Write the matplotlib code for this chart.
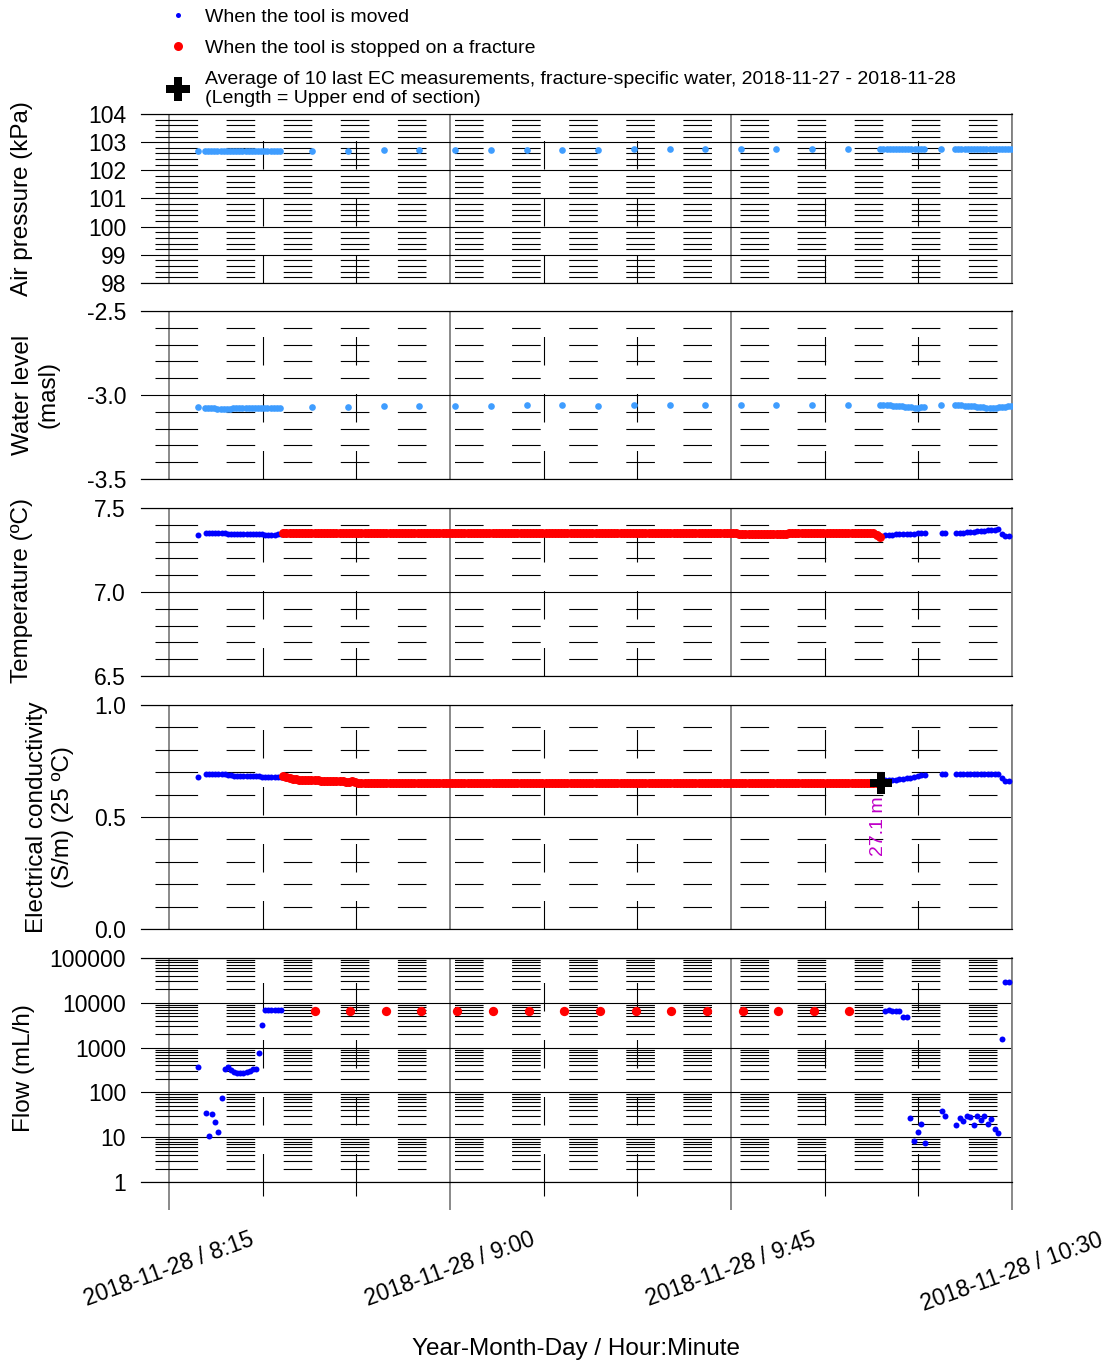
import numpy as np
import pandas as pd
import matplotlib
matplotlib.use("Agg")
import matplotlib.pyplot as plt
import matplotlib.dates as mdates
from matplotlib.lines import Line2D
from matplotlib.ticker import FixedLocator, MultipleLocator, LogLocator, FuncFormatter, FormatStrFormatter

plt.rcParams['font.family'] = ['Liberation Sans', 'DejaVu Sans']
plt.rcParams['lines.scale_dashes'] = False

base = pd.Timestamp('2018-11-28 08:00')

# ---- ambient logger (air pressure, water level), minutes after 08:00 ----
amb_first_min = [19.63]
amb_a_start, amb_a_step = 20.75, 0.5          # 25 readings while lowering
amb_stop_min = [37.89, 43.66, 49.42, 55.03, 60.79, 66.56, 72.32, 77.93,
                83.69, 89.46, 95.22, 100.83, 106.60, 112.20, 117.97, 123.73]
amb_b_start, amb_b_step = 128.9, 0.5           # 15 readings
amb_single_min = [138.6]
amb_c_start, amb_c_step = 140.9, 0.5           # 19 readings

air_kpa = ([102.69] +
           [102.69, 102.69, 102.69, 102.69, 102.69, 102.69, 102.69, 102.69, 102.69,
            102.69, 102.69, 102.69, 102.69, 102.69, 102.69, 102.69, 102.69, 102.69,
            102.69, 102.69, 102.69, 102.69, 102.69, 102.69, 102.69] +
           [102.70, 102.70, 102.71, 102.71, 102.72, 102.72, 102.73, 102.73,
            102.73, 102.74, 102.74, 102.74, 102.75, 102.75, 102.75, 102.75] +
           [102.76, 102.76, 102.76, 102.76, 102.76, 102.76, 102.76, 102.76,
            102.76, 102.76, 102.76, 102.76, 102.76, 102.76, 102.76] +
           [102.76] +
           [102.76, 102.76, 102.76, 102.76, 102.76, 102.76, 102.76, 102.76, 102.76,
            102.76, 102.76, 102.76, 102.76, 102.76, 102.76, 102.75, 102.75, 102.75,
            102.75])

water_masl = ([-3.071] +
              [-3.075, -3.08, -3.08, -3.08, -3.085, -3.085, -3.085, -3.085, -3.085,
               -3.08, -3.08, -3.08, -3.08, -3.08, -3.08, -3.08, -3.08, -3.08, -3.08,
               -3.075, -3.075, -3.075, -3.075, -3.075, -3.075] +
              [-3.07, -3.07, -3.065, -3.065, -3.065, -3.065, -3.06, -3.06,
               -3.065, -3.06, -3.06, -3.06, -3.06, -3.06, -3.06, -3.06] +
              [-3.06, -3.06, -3.06, -3.06, -3.065, -3.065, -3.065, -3.065,
               -3.07, -3.07, -3.07, -3.075, -3.075, -3.07, -3.07] +
              [-3.06] +
              [-3.06, -3.06, -3.06, -3.065, -3.065, -3.065, -3.065, -3.07, -3.07,
               -3.07, -3.075, -3.075, -3.075, -3.075, -3.07, -3.07, -3.07, -3.065,
               -3.065])

# ---- logging tool (temperature, EC, flow) ----
tool_first_min = [19.7]
tool_a_start, tool_a_step = 20.9, 0.5         # 25 readings
tool_b_start, tool_b_step = 129.66, 0.58      # 12 readings
tool_b2_min = [138.79, 139.27]
tool_c_start, tool_c_step = 141.08, 0.56      # 16 readings
stop_start, stop_step = 33.3, 0.5             # 192 readings while stopped
flow_stop_min = [38.37, 44.02, 49.74, 55.39, 61.16, 66.88, 72.59, 78.30,
                 84.01, 89.78, 95.39, 101.20, 106.87, 112.57, 118.32, 123.94]

temp_moved = ([7.339] +
              [7.349, 7.350, 7.350, 7.350, 7.350, 7.349, 7.349, 7.348, 7.348, 7.347,
               7.346, 7.346, 7.345, 7.345, 7.344, 7.344, 7.343, 7.343, 7.343, 7.342,
               7.342, 7.342, 7.342, 7.343, 7.345] +
              [7.342, 7.342, 7.342, 7.343, 7.343, 7.343, 7.344, 7.345, 7.348, 7.350,
               7.352, 7.352] +
              [7.353, 7.353] +
              [7.352, 7.353, 7.354, 7.356, 7.358, 7.360, 7.362, 7.364, 7.366, 7.368,
               7.370, 7.372, 7.373, 7.345, 7.334, 7.332])
temp_stop = ([7.352] * 16 + [7.354] * 130 + [7.343] * 14 + [7.348] * 2 +
             [7.354] * 28 + [7.340, 7.330])

ec_moved = ([0.677] +
            [0.690, 0.694, 0.694, 0.694, 0.693, 0.692, 0.690, 0.688, 0.686, 0.685,
             0.684, 0.683, 0.683, 0.682, 0.682, 0.681, 0.681, 0.681, 0.680, 0.680,
             0.680, 0.680, 0.679, 0.679, 0.679] +
            [0.664, 0.665, 0.666, 0.667, 0.668, 0.670, 0.672, 0.674, 0.680, 0.685,
             0.686, 0.686] +
            [0.693, 0.693] +
            [0.692, 0.693, 0.693, 0.693, 0.693, 0.693, 0.693, 0.693, 0.693, 0.693,
             0.693, 0.692, 0.690, 0.676, 0.662, 0.660])
ec_stop = ([0.683, 0.678, 0.674, 0.671, 0.668, 0.666, 0.664, 0.663, 0.663, 0.663,
            0.663, 0.663, 0.662, 0.662, 0.662, 0.662, 0.661, 0.661, 0.660, 0.660,
            0.657, 0.657, 0.660, 0.657, 0.654, 0.653] + [0.652] * 166)

flow_moved = ([375] +
              [35.2, 10.8, 33.0, 22.2, 13.3, 76.0, 333, 375, 316, 280, 270, 267, 267,
               285, 300, 325, 330, 746, 3150, 6900, 6900, 6900, 6900, 6900, 6900] +
              [6500, 6800, 6500, 6600, 6600, 4900, 4700, 26.4, 8.4, 12.9, 19.4, 7.3] +
              [39.0, 29.7] +
              [18.7, 26.4, 23.0, 30.3, 28.7, 18.7, 29.7, 24.2, 30.3, 19.4, 25.5, 15.2,
               12.6, 1560, 29600, 28900])
flow_stop = [6700, 6600, 6600, 6600, 6600, 6600, 6600, 6600, 6600, 6600, 6600, 6600,
             6500, 6500, 6500, 6500]

# fracture-specific EC average
ec_avg_min = 129.0
ec_avg = 0.652
ec_avg_label = '27.1 m'

x_min, x_max = 10.5, 150.0
major_min = [15, 60, 105, 150]


def stamps(minutes):
    return (base + pd.to_timedelta(np.asarray(minutes, dtype=float), unit='min')).values


def run(start, step, n):
    return list(start + step * np.arange(n))


amb_min = (amb_first_min + run(amb_a_start, amb_a_step, 25) + amb_stop_min +
           run(amb_b_start, amb_b_step, 15) + amb_single_min +
           run(amb_c_start, amb_c_step, 19))
tool_min = (tool_first_min + run(tool_a_start, tool_a_step, 25) +
            run(tool_b_start, tool_b_step, 12) + tool_b2_min +
            run(tool_c_start, tool_c_step, 16))
stop_min = run(stop_start, stop_step, len(temp_stop))

amb_t = stamps(amb_min)
tool_t = stamps(tool_min)
stop_t = stamps(stop_min)
flow_stop_t = stamps(flow_stop_min)

W, H = 1118, 1367


def px(v):
    return v * 72.0 / 100.0


# dash pattern of horizontal minor grid: long first dash, then regular short dashes
seq = [42.6, 28.5] + [28.6, 28.5] * 13 + [28.6, 100.0]
hdash = (px(sum(seq) - 14.0), [px(v) for v in seq])
vdash = (0, [px(28.5), px(28.5)])

light_blue = '#3f9dff'
blue = '#0000ff'
red = '#ff0000'

fig = plt.figure(figsize=(W / 100, H / 100), dpi=100)

panels = [(114, 283), (311, 479), (508, 676), (705, 929), (958, 1182)]
axes = []
for top, bottom in panels:
    ax = fig.add_axes([141 / W, 1 - bottom / H, 871 / W, (bottom - top) / H])
    axes.append(ax)
ax_air, ax_wl, ax_temp, ax_ec, ax_flow = axes


def style(ax, lo, hi, major=None, minor=None, log=False, fmt='%.1f'):
    ax.set_xlim(stamps([x_min])[0], stamps([x_max])[0])
    if log:
        ax.set_yscale('log')
        ax.set_ylim(lo, hi)
        ax.yaxis.set_major_locator(LogLocator(base=10, numticks=20))
        ax.yaxis.set_minor_locator(LogLocator(base=10, subs=np.arange(2, 10), numticks=20))
        ax.yaxis.set_major_formatter(FuncFormatter(lambda v, p: f"{v:.0f}"))
    else:
        ax.set_ylim(lo, hi)
        ax.yaxis.set_major_locator(MultipleLocator(major))
        ax.yaxis.set_minor_locator(MultipleLocator(minor))
        ax.yaxis.set_major_formatter(FormatStrFormatter(fmt))
    ax.xaxis.set_major_locator(FixedLocator(mdates.date2num(stamps(major_min))))
    ax.xaxis.set_minor_locator(mdates.MinuteLocator(byminute=[0, 15, 30, 45]))

    ax.spines['left'].set_visible(False)
    ax.spines['right'].set_color('#808080')
    ax.spines['right'].set_linewidth(px(1.8))
    for s in ('top', 'bottom'):
        ax.spines[s].set_color('black')
        ax.spines[s].set_linewidth(px(1.2))

    ax.grid(True, which='major', axis='y', color='black', lw=px(1.1))
    ax.grid(True, which='minor', axis='y', color='black', lw=px(1.1), linestyle=hdash)
    ax.grid(True, which='major', axis='x', color='#808080', lw=px(1.8))
    ax.grid(True, which='minor', axis='x', color='black', lw=px(1.1), linestyle=vdash)

    ax.tick_params(axis='y', which='both', length=0, pad=px(15), labelsize=16.5)
    ax.tick_params(axis='x', which='both', length=0, labelbottom=False)


style(ax_air, 98, 104, 1, 0.2, fmt='%.0f')
style(ax_wl, -3.5, -2.5, 0.5, 0.1)
style(ax_temp, 6.5, 7.5, 0.5, 0.1)
style(ax_ec, 0.0, 1.0, 0.5, 0.1)
style(ax_flow, 1, 100000, log=True)

# ambient readings
ax_air.plot(amb_t, air_kpa, 'o', color=light_blue, ms=4.8, mew=0, zorder=3)
ax_wl.plot(amb_t, water_masl, 'o', color=light_blue, ms=4.8, mew=0, zorder=3)

# tool readings
ax_temp.plot(tool_t, temp_moved, 'o', color=blue, ms=4.3, mew=0, zorder=3)
ax_temp.plot(stop_t, temp_stop, 'o', color=red, ms=6.5, mew=0, zorder=4)

ax_ec.plot(tool_t, ec_moved, 'o', color=blue, ms=4.3, mew=0, zorder=3)
ax_ec.plot(stop_t, ec_stop, 'o', color=red, ms=6.5, mew=0, zorder=4)
plus_t = stamps([ec_avg_min])
ax_ec.plot(plus_t, [ec_avg], 'P', color='black', ms=16.5, mew=0, zorder=5)
ax_ec.annotate(ec_avg_label, xy=(plus_t[0], ec_avg), xytext=(-2, -10),
               textcoords='offset points', rotation=90, ha='center', va='top',
               color='#c000c8', fontsize=14, zorder=6)

ax_flow.plot(tool_t, flow_moved, 'o', color=blue, ms=4.3, mew=0, zorder=3)
ax_flow.plot(flow_stop_t, flow_stop, 'o', color=red, ms=6.7, mew=0, zorder=4)

# x axis only on the bottom panel
ax_flow.xaxis.set_major_formatter(FuncFormatter(
    lambda v, p: "{:%Y-%m-%d} / {}:{:%M}".format(mdates.num2date(v), mdates.num2date(v).hour, mdates.num2date(v))))
ax_flow.tick_params(axis='x', which='major', length=px(28), width=px(1.8), color='#808080',
                    direction='out', labelbottom=True, labelsize=16.5, labelrotation=20, pad=13)
ax_flow.tick_params(axis='x', which='minor', length=px(14), width=px(1.1), color='black',
                    direction='out')

# axis titles
fig.text(22 / W, 1 - 198.5 / H, 'Air pressure (kPa)', rotation=90, ha='center', va='center', fontsize=17.5)
fig.text(36 / W, 1 - 395 / H, 'Water level\n(masl)', rotation=90, ha='center', va='center',
         fontsize=17.5, multialignment='center')
fig.text(22 / W, 1 - 591 / H, 'Temperature (\u00baC)', rotation=90, ha='center', va='center', fontsize=17.5)
fig.text(50 / W, 1 - 817 / H, 'Electrical conductivity\n(S/m) (25 \u00baC)', rotation=90,
         ha='center', va='center', fontsize=17.5, multialignment='center')
fig.text(24 / W, 1 - 1068 / H, 'Flow (mL/h)', rotation=90, ha='center', va='center', fontsize=17.5)
fig.text(576.5 / W, 1 - 1349 / H, 'Year-Month-Day / Hour:Minute', ha='center', va='center', fontsize=17.5)

handles = [
    Line2D([], [], marker='o', color=blue, ls='none', ms=3.6, mew=0),
    Line2D([], [], marker='o', color=red, ls='none', ms=6.5, mew=0),
    Line2D([], [], marker='P', color='black', ls='none', ms=17, mew=0),
]
labels = [
    'When the tool is moved',
    'When the tool is stopped on a fracture',
    'Average of 10 last EC measurements, fracture-specific water, 2018-11-27 - 2018-11-28\n'
    '(Length = Upper end of section)',
]
fig.legend(handles, labels, loc='upper left', bbox_to_anchor=(168.3 / W, 1 - 8 / H),
           bbox_transform=fig.transFigure, frameon=False, fontsize=14, handlelength=1.0,
           handletextpad=0.89, borderpad=0, borderaxespad=0, labelspacing=0.71, numpoints=1)

fig.savefig('out.png', dpi=100)
